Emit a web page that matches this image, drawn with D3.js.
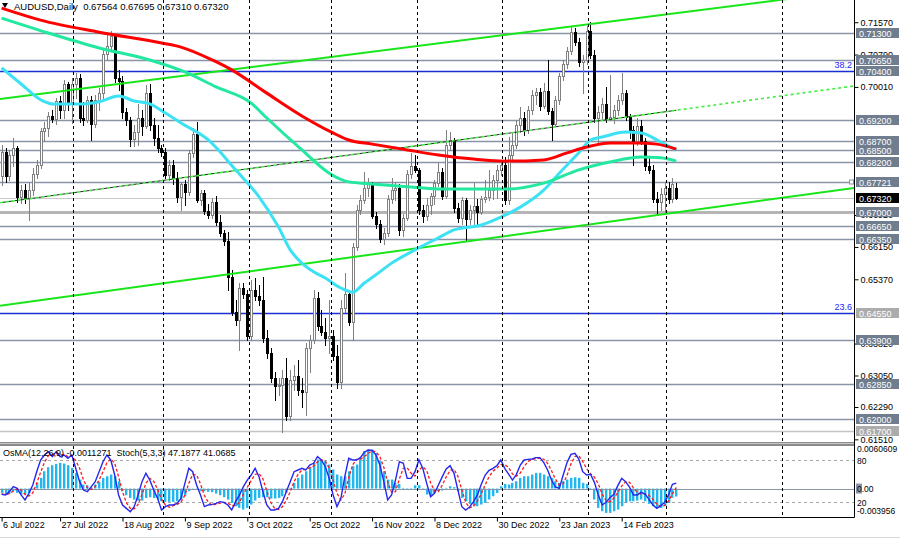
<!DOCTYPE html>
<html>
<head>
<meta charset="utf-8">
<script src="https://cdn.jsdelivr.net/npm/d3@7"></script>
<style>
  html, body { margin: 0; padding: 0; background: #fff; overflow: hidden; }
  svg { display: block; font-family: "Liberation Sans", Arial, sans-serif; }
</style>
</head>
<body>
<svg id="chart" width="900" height="538"></svg>
<script>
// AUDUSD daily bars, 6 Jul 2022 .. 6 Mar 2023
const opens = [0.6786,0.6844,0.6786,0.6837,0.6854,0.6736,0.6753,0.6733,0.6753,0.6791,
  0.6813,0.6895,0.6902,0.6931,0.6924,0.6967,0.6946,0.7008,0.6965,0.7008,
  0.7023,0.6926,0.6922,0.6970,0.6912,0.6970,0.6987,0.7081,0.7100,0.7124,
  0.7023,0.7016,0.6941,0.6922,0.6876,0.6893,0.6926,0.6907,0.6987,0.6909,
  0.6878,0.6854,0.6844,0.6789,0.6813,0.6782,0.6736,0.6767,0.6748,0.6842,
  0.6888,0.6729,0.6745,0.6702,0.6692,0.6724,0.6676,0.6649,0.6630,0.6543,
  0.6458,0.6439,0.6516,0.6502,0.6401,0.6512,0.6497,0.6487,0.6396,0.6360,
  0.6299,0.6280,0.6282,0.6299,0.6208,0.6294,0.6304,0.6270,0.6265,0.6372,
  0.6391,0.6492,0.6425,0.6410,0.6396,0.6401,0.6352,0.6290,0.6468,0.6502,
  0.6434,0.6615,0.6704,0.6729,0.6758,0.6767,0.6690,0.6671,0.6635,0.6649,
  0.6731,0.6753,0.6758,0.6656,0.6685,0.6791,0.6811,0.6801,0.6704,0.6690,
  0.6717,0.6738,0.6770,0.6796,0.6738,0.6861,0.6873,0.6709,0.6685,0.6729,
  0.6683,0.6704,0.6714,0.6700,0.6731,0.6736,0.6753,0.6777,0.6801,0.6813,
  0.6729,0.6837,0.6861,0.6909,0.6926,0.6897,0.6946,0.6982,0.6989,0.6955,
  0.6992,0.6943,0.6912,0.6970,0.7028,0.7057,0.7088,0.7134,0.7110,0.7061,
  0.7066,0.7136,0.7078,0.6926,0.6941,0.6960,0.6924,0.6929,0.6946,0.6970,
  0.6987,0.6929,0.6897,0.6871,0.6907,0.6871,0.6811,0.6801,0.6731,0.6724,
  0.6743,0.6758,0.6731,0.67564];
const highs = [0.6861,0.6854,0.6849,0.6878,0.6859,0.6765,0.6767,0.6770,0.6806,0.6825,
  0.6902,0.6917,0.6941,0.6946,0.6975,0.6979,0.7018,0.7013,0.7023,0.7035,
  0.7033,0.6965,0.6979,0.6979,0.6982,0.6999,0.7090,0.7131,0.7136,0.7129,
  0.7042,0.7028,0.6951,0.6929,0.6909,0.6960,0.6946,0.7006,0.7008,0.6926,
  0.6909,0.6861,0.6854,0.6825,0.6825,0.6796,0.6772,0.6777,0.6849,0.6902,
  0.6917,0.6753,0.6753,0.6719,0.6733,0.6738,0.6692,0.6656,0.6651,0.6560,
  0.6487,0.6528,0.6528,0.6512,0.6536,0.6540,0.6524,0.6543,0.6415,0.6372,
  0.6314,0.6299,0.6319,0.6347,0.6319,0.6331,0.6343,0.6299,0.6384,0.6403,
  0.6512,0.6507,0.6463,0.6444,0.6487,0.6415,0.6379,0.6487,0.6553,0.6512,
  0.6625,0.6717,0.6741,0.6796,0.6782,0.6772,0.6700,0.6680,0.6661,0.6741,
  0.6782,0.6772,0.6767,0.6695,0.6801,0.6842,0.6837,0.6806,0.6717,0.6733,
  0.6745,0.6777,0.6818,0.6806,0.6897,0.6893,0.6878,0.6721,0.6736,0.6733,
  0.6717,0.6770,0.6731,0.6738,0.6777,0.6801,0.6789,0.6813,0.6825,0.6832,
  0.6881,0.6890,0.6922,0.6953,0.6941,0.6955,0.6994,0.6999,0.6999,0.7011,
  0.7066,0.6951,0.6979,0.7035,0.7066,0.7098,0.7146,0.7143,0.7119,0.7078,
  0.7148,0.7158,0.7090,0.6955,0.6975,0.7001,0.7030,0.6958,0.6982,0.7035,
  0.6994,0.6936,0.6907,0.6926,0.6922,0.6878,0.6830,0.6813,0.6748,0.6758,
  0.6772,0.6772,0.6782,0.67695];
const lows = [0.6765,0.6772,0.6777,0.6811,0.6724,0.6721,0.6721,0.6680,0.6741,0.6782,
  0.6806,0.6871,0.6883,0.6917,0.6912,0.6926,0.6926,0.6946,0.6914,0.6975,
  0.6917,0.6909,0.6917,0.6873,0.6905,0.6946,0.6970,0.7066,0.7090,0.7013,
  0.6994,0.6926,0.6909,0.6859,0.6859,0.6861,0.6885,0.6902,0.6897,0.6861,
  0.6844,0.6835,0.6782,0.6777,0.6767,0.6724,0.6704,0.6717,0.6741,0.6832,
  0.6724,0.6717,0.6695,0.6685,0.6685,0.6668,0.6642,0.6620,0.6512,0.6451,
  0.6427,0.6367,0.6492,0.6391,0.6391,0.6487,0.6475,0.6386,0.6347,0.6290,
  0.6246,0.6258,0.6169,0.6198,0.6198,0.6270,0.6258,0.6229,0.6210,0.6314,
  0.6384,0.6415,0.6403,0.6379,0.6360,0.6343,0.6275,0.6275,0.6458,0.6427,
  0.6391,0.6608,0.6695,0.6721,0.6738,0.6685,0.6661,0.6627,0.6622,0.6642,
  0.6721,0.6729,0.6644,0.6642,0.6680,0.6782,0.6796,0.6695,0.6676,0.6680,
  0.6695,0.6719,0.6762,0.6731,0.6733,0.6849,0.6700,0.6676,0.6671,0.6632,
  0.6671,0.6666,0.6671,0.6695,0.6724,0.6729,0.6731,0.6733,0.6789,0.6719,
  0.6719,0.6825,0.6854,0.6893,0.6885,0.6890,0.6936,0.6960,0.6946,0.6951,
  0.6936,0.6873,0.6907,0.6960,0.7018,0.7047,0.7081,0.7102,0.7052,0.6987,
  0.7057,0.7071,0.6917,0.6866,0.6922,0.6917,0.6922,0.6914,0.6934,0.6960,
  0.6922,0.6878,0.6813,0.6861,0.6864,0.6801,0.6794,0.6724,0.6697,0.6704,
  0.6697,0.6721,0.6724,0.6731];
const closes = [0.6844,0.6786,0.6837,0.6854,0.6736,0.6753,0.6733,0.6753,0.6791,0.6813,
  0.6895,0.6902,0.6931,0.6924,0.6967,0.6946,0.7008,0.6965,0.7008,0.7023,
  0.6926,0.6922,0.6970,0.6912,0.6970,0.6987,0.7081,0.7100,0.7124,0.7023,
  0.7016,0.6941,0.6922,0.6876,0.6893,0.6926,0.6907,0.6987,0.6909,0.6878,
  0.6854,0.6844,0.6789,0.6813,0.6782,0.6736,0.6767,0.6748,0.6842,0.6888,
  0.6729,0.6745,0.6702,0.6692,0.6724,0.6676,0.6649,0.6630,0.6543,0.6458,
  0.6439,0.6516,0.6502,0.6401,0.6512,0.6497,0.6487,0.6396,0.6360,0.6299,
  0.6280,0.6282,0.6299,0.6208,0.6294,0.6304,0.6270,0.6265,0.6372,0.6391,
  0.6492,0.6425,0.6410,0.6396,0.6401,0.6352,0.6290,0.6468,0.6502,0.6434,
  0.6615,0.6704,0.6729,0.6758,0.6767,0.6690,0.6671,0.6635,0.6649,0.6731,
  0.6753,0.6758,0.6656,0.6685,0.6791,0.6811,0.6801,0.6704,0.6690,0.6717,
  0.6738,0.6770,0.6796,0.6738,0.6861,0.6873,0.6709,0.6685,0.6729,0.6683,
  0.6704,0.6714,0.6700,0.6731,0.6736,0.6753,0.6777,0.6801,0.6813,0.6729,
  0.6837,0.6861,0.6909,0.6926,0.6897,0.6946,0.6982,0.6989,0.6955,0.6992,
  0.6943,0.6912,0.6970,0.7028,0.7057,0.7088,0.7134,0.7110,0.7061,0.7066,
  0.7136,0.7078,0.6926,0.6941,0.6960,0.6924,0.6929,0.6946,0.6970,0.6987,
  0.6929,0.6897,0.6871,0.6907,0.6871,0.6811,0.6801,0.6731,0.6724,0.6743,
  0.6758,0.6731,0.6767,0.6732];

// moving averages, sampled [bar, price]
const ema200 = [[0,0.7191],[10,0.7162],[25,0.7133],[41,0.7107],[46,0.7097],[54,0.7066],[59,0.7042],
  [68,0.6986],[77,0.6931],[85,0.6890],[89,0.6873],[95,0.6863],[104,0.6849],[112,0.6837],[121,0.6827],
  [129,0.6822],[139,0.6825],[145,0.6842],[150,0.6856],[156,0.6866],[163,0.6866],[168,0.6863],[173,0.6851]];
const ema144 = [[0,0.7167],[12,0.7131],[25,0.7095],[38,0.7066],[47,0.7037],[55,0.7001],[64,0.6962],
  [68,0.6926],[77,0.6849],[84,0.6793],[89,0.6772],[95,0.6767],[104,0.6760],[112,0.6755],[121,0.6755],
  [130,0.6755],[139,0.6769],[148,0.6801],[156,0.6820],[164,0.6832],[169,0.6830],[173,0.6822]];
const ema50 = [[0,0.7047],[5,0.7008],[10,0.6970],[13,0.6960],[21,0.6960],[25,0.6965],[30,0.6979],[34,0.6967],
  [38,0.6960],[42,0.6938],[46,0.6914],[53,0.6873],[60,0.6801],[66,0.6736],[71,0.6663],[74,0.6608],
  [77,0.6576],[80,0.6555],[83,0.6540],[87,0.6516],[90,0.6506],[93,0.6528],[97,0.6555],[100,0.6576],
  [106,0.6608],[112,0.6637],[116,0.6656],[123,0.6668],[128,0.6687],[133,0.6711],[139,0.6752],[143,0.6793],
  [148,0.6842],[151,0.6873],[154,0.6880],[160,0.6892],[164,0.6890],[169,0.6868],[173,0.6849]];

// OsMA(12,26,9) histogram and Stoch(5,3,3)
const osma = [-0.00062,-0.00085,-0.00076,-0.00038,-0.00062,-0.00085,-0.00085,-0.00062,-0.00014,0.00081,
  0.00152,0.00246,0.00303,0.00332,0.00351,0.00365,0.00355,0.00332,0.00294,0.00223,
  0.00128,0.00057,0.00047,0.00019,0.00057,0.00095,0.00152,0.00175,0.00199,0.00175,
  0.00104,-0.00038,-0.00095,-0.00133,-0.00156,-0.00171,-0.00171,-0.00133,-0.00123,-0.00133,
  -0.00156,-0.00180,-0.00189,-0.00189,-0.00189,-0.00180,-0.00156,-0.00109,-0.00038,-0.00005,
  -0.00014,-0.00038,-0.00038,-0.00047,-0.00052,-0.00071,-0.00095,-0.00123,-0.00156,-0.00204,
  -0.00251,-0.00275,-0.00298,-0.00275,-0.00227,-0.00171,-0.00133,-0.00123,-0.00123,-0.00142,
  -0.00142,-0.00133,-0.00109,-0.00062,0.00009,0.00081,0.00152,0.00199,0.00246,0.00303,
  0.00365,0.00412,0.00412,0.00388,0.00341,0.00270,0.00199,0.00175,0.00175,0.00246,
  0.00317,0.00341,0.00436,0.00530,0.00554,0.00554,0.00507,0.00388,0.00246,0.00128,
  0.00128,0.00081,0.00066,0.00009,-0.00019,-0.00009,0.00047,0.00047,-0.00014,-0.00085,
  -0.00109,-0.00062,-0.00038,-0.00028,0.00009,0.00033,0.00019,-0.00038,-0.00133,-0.00180,
  -0.00218,-0.00251,-0.00251,-0.00227,-0.00204,-0.00156,-0.00109,-0.00062,0.00033,0.00066,
  0.00057,0.00081,0.00104,0.00152,0.00175,0.00175,0.00199,0.00223,0.00223,0.00199,
  0.00175,0.00152,0.00104,0.00081,0.00104,0.00128,0.00152,0.00161,0.00152,0.00081,
  0.00066,0.00009,-0.00156,-0.00275,-0.00322,-0.00346,-0.00346,-0.00322,-0.00298,-0.00251,
  -0.00204,-0.00180,-0.00180,-0.00171,-0.00156,-0.00180,-0.00218,-0.00251,-0.00275,-0.00275,
  -0.00251,-0.00204,-0.00133,-0.0011271];
const stochMain = [31.3,30.4,35.1,42.2,39.8,30.4,23.3,32.7,44.5,63.4,
  80.0,87.1,91.8,84.7,91.8,84.7,87.1,82.4,87.1,68.2,
  49.3,37.4,35.1,42.2,49.3,63.4,77.6,87.1,80.0,58.7,
  30.4,16.2,11.4,6.7,13.8,30.4,49.3,61.1,51.6,37.4,
  25.6,9.1,13.8,16.2,16.2,18.5,25.6,46.9,68.2,63.4,
  44.5,30.4,13.8,16.2,17.1,18.5,20.9,20.0,16.2,9.1,
  20.9,30.4,42.2,51.6,58.7,68.2,56.4,35.1,16.2,9.1,
  9.1,11.4,20.9,35.1,49.3,63.4,65.8,68.2,65.8,72.9,
  75.3,84.7,80.0,70.5,54.0,30.4,13.8,25.6,56.4,82.4,
  80.0,80.0,83.3,90.9,94.2,93.7,87.1,72.9,49.3,23.3,
  30.4,51.6,77.6,75.3,54.0,54.0,63.4,80.0,68.2,46.9,
  28.0,32.7,44.5,56.4,67.2,72.0,61.1,37.4,13.8,9.1,
  13.3,20.9,30.4,45.5,58.7,65.3,68.2,72.0,80.0,68.2,
  60.1,51.6,59.7,72.9,80.0,80.9,81.4,83.3,83.3,76.7,
  65.8,51.6,41.7,39.8,58.7,76.7,88.0,89.5,81.4,63.4,
  58.7,59.7,48.3,30.4,16.2,20.0,26.6,31.3,43.6,54.0,
  49.3,41.7,30.4,30.4,34.1,31.8,24.2,16.2,11.4,15.0,
  20.0,30.5,45.5,47.1877];
const stochSignal = [32.0,31.0,32.3,35.9,39.0,37.5,31.2,28.8,33.5,46.9,
  62.6,76.8,86.3,87.9,89.4,87.1,87.9,84.7,85.5,79.2,
  68.2,51.6,40.6,38.2,42.2,51.6,63.4,76.0,81.6,75.3,
  56.4,35.1,19.3,11.4,10.6,17.0,31.2,46.9,54.0,50.0,
  38.2,24.0,16.2,13.0,15.4,17.0,20.1,30.3,46.9,59.5,
  58.7,46.1,29.6,20.1,15.7,17.3,18.8,19.8,19.0,15.1,
  15.4,20.1,31.2,41.4,50.8,59.5,61.1,53.2,35.9,20.1,
  11.5,9.9,13.8,22.5,35.1,49.3,59.5,65.8,66.6,69.0,
  71.3,77.6,80.0,78.4,68.2,51.6,32.7,23.3,31.9,54.8,
  72.9,80.8,81.1,84.7,89.5,92.9,91.7,84.6,69.8,48.5,
  34.3,35.1,53.2,68.2,69.0,61.1,57.1,65.8,70.5,65.0,
  47.7,35.9,35.1,44.5,56.0,65.2,66.8,56.8,37.4,20.1,
  12.1,14.4,21.5,32.3,44.9,56.5,64.1,68.5,73.4,73.4,
  69.4,60.0,57.1,61.4,70.9,77.9,80.8,81.9,82.7,81.1,
  75.3,64.7,53.0,44.4,46.7,58.4,74.5,84.7,86.3,78.1,
  67.8,60.6,55.6,46.1,31.6,22.2,20.9,26.0,33.8,43.0,
  49.0,48.3,40.5,34.2,31.6,32.1,30.0,24.1,17.3,14.2,
  15.5,21.8,32.0,41.0685];

// axes
const dateLabels = ["6 Jul 2022","27 Jul 2022","18 Aug 2022","9 Sep 2022","3 Oct 2022","25 Oct 2022",
  "16 Nov 2022","8 Dec 2022","30 Dec 2022","23 Jan 2023","14 Feb 2023"];
const dateBars = [0,15,31,47,63,79,95,111,127,143,159];
const monthStartBars = [18,41,63,84,106,128,150,170,199.6];
// scale labels that are not fully hidden behind the level boxes
const priceTicks = [0.7157,0.7079,0.7001,0.6692,0.6615,0.6537,0.6382,0.6305,0.6229,0.6151];

// chart objects
const levelPrices = [0.7130,0.7065,0.7040,0.6920,0.6870,0.6850,0.6820,0.67721,0.6700,0.6665,0.6635,0.6455,0.6390,0.6285,0.6200,0.6170];
const fiboLevels = [0.7040, 0.6455];
const fiboNames = ["38.2", "23.6"];
const trendUpper = [[0,0.69723],[150,0.71515]];
const trendMid = [[0,0.67222],[150,0.69151]];
const trendLower = [[0,0.64737],[150,0.66684]];
const lastPrice = 0.6732;

const svg = d3.select("#chart");
const plotRight = 854, mainBottom = 443, oscTop = 446, oscBottom = 517;

const x = d3.scaleLinear().domain([0, 173]).range([1.6, 1.6 + 173 * 3.9]);
const y = d3.scaleLinear().domain([0.61422, 0.72106]).range([mainBottom, 0]);
const yStoch = d3.scaleLinear().domain([0, 100]).range([516.4, 445.9]);
const yOsma = d3.scaleLinear().domain([-0.003956, 0.0060609]).range([516.4, 445.9]);

const defs = svg.append("defs");
defs.append("clipPath").attr("id", "clipMain").append("rect")
  .attr("x", 0).attr("y", 0).attr("width", plotRight).attr("height", 442);
defs.append("clipPath").attr("id", "clipOsc").append("rect")
  .attr("x", 0).attr("y", oscTop).attr("width", plotRight).attr("height", oscBottom - oscTop);

const gMain = svg.append("g").attr("clip-path", "url(#clipMain)");
const gOsc = svg.append("g").attr("clip-path", "url(#clipOsc)");

// month separators (both panels)
monthStartBars.forEach(b => {
  const xx = Math.round(x(b) + 1.5) + 0.5;
  [[0, 442], [oscTop, oscBottom]].forEach(([a, z]) => {
    svg.append("line").attr("x1", xx).attr("x2", xx).attr("y1", a).attr("y2", z)
      .attr("stroke", "#000").attr("stroke-width", 1).attr("stroke-dasharray", "3,3");
  });
});

// horizontal levels
const hy = p => Math.round(y(p)) + 0.5;
levelPrices.forEach(p => {
  let col = "#8995a6", w = 1.5;
  if (fiboLevels.includes(p)) { col = "#1b2fd6"; w = 1.5; }
  if (p === 0.6700) { col = "#b5b5b5"; w = 3; }
  if (p === 0.6170) { col = "#c4c4c4"; w = 1.5; }
  gMain.append("line").attr("x1", 0).attr("x2", plotRight).attr("y1", hy(p)).attr("y2", hy(p))
    .attr("stroke", col).attr("stroke-width", w);
});
gMain.append("line").attr("x1", 0).attr("x2", plotRight).attr("y1", hy(lastPrice)).attr("y2", hy(lastPrice))
  .attr("stroke", "#c8c8c8").attr("stroke-width", 1);
fiboNames.forEach((n, k) => {
  gMain.append("text").attr("x", 852).attr("y", y(fiboLevels[k]) - 3).attr("text-anchor", "end")
    .attr("font-size", 9).attr("fill", "#2323ff").text(n);
});

// candles
const bars = d3.range(opens.length).map(i => ({ i, o: opens[i], h: highs[i], l: lows[i], c: closes[i] }));
const cg = gMain.append("g").selectAll("g").data(bars).join("g");
cg.append("line")
  .attr("x1", d => Math.round(x(d.i)) + 0.5).attr("x2", d => Math.round(x(d.i)) + 0.5)
  .attr("y1", d => Math.round(y(d.h))).attr("y2", d => Math.round(y(d.l)) + 1)
  .attr("stroke", d => d.c >= d.o ? "#808080" : "#000").attr("stroke-width", 1);
cg.filter(d => d.c >= d.o).append("rect")
  .attr("x", d => Math.round(x(d.i)) - 0.5)
  .attr("y", d => Math.round(y(d.c)) + 0.5)
  .attr("width", 2)
  .attr("height", d => Math.max(1, Math.round(y(d.o)) - Math.round(y(d.c))))
  .attr("fill", "#fff").attr("stroke", "#808080").attr("stroke-width", 1);
cg.filter(d => d.c < d.o).append("rect")
  .attr("x", d => Math.round(x(d.i)) - 1)
  .attr("y", d => Math.round(y(d.o)))
  .attr("width", 3)
  .attr("height", d => Math.max(1, Math.round(y(d.c)) - Math.round(y(d.o)) + 1))
  .attr("fill", "#000");

// trend lines, extended across the chart
const x0i = x.invert(0), x1i = x.invert(plotRight);
function rayPoints(t, from, to) {
  const k = (t[1][1] - t[0][1]) / (t[1][0] - t[0][0]);
  return [[from, t[0][1] + k * (from - t[0][0])], [to, t[0][1] + k * (to - t[0][0])]];
}
const tline = d3.line().x(d => x(d[0])).y(d => y(d[1]));
gMain.append("path").attr("d", tline(rayPoints(trendUpper, x0i, x1i)))
  .attr("stroke", "#19e619").attr("stroke-width", 2).attr("fill", "none");
gMain.append("path").attr("d", tline(rayPoints(trendLower, x0i, x1i)))
  .attr("stroke", "#19e619").attr("stroke-width", 2).attr("fill", "none");
gMain.append("path").attr("d", tline(rayPoints(trendMid, x0i, x1i)))
  .attr("stroke", "#3df03d").attr("stroke-width", 1.6).attr("fill", "none").attr("stroke-dasharray", "3,3");
gMain.append("path").attr("d", tline(rayPoints(trendMid, x0i, 173)))
  .attr("stroke", "#222").attr("stroke-width", 1).attr("fill", "none")
  .attr("stroke-dasharray", "3,3").attr("stroke-dashoffset", 3);

// moving averages
const maLine = d3.line().x(d => x(d[0])).y(d => y(d[1])).curve(d3.curveMonotoneX);
[[ema50, "#3ce2f4"], [ema144, "#22e8a0"], [ema200, "#ff0000"]].forEach(([s, c]) => {
  gMain.append("path").attr("d", maLine(s)).attr("fill", "none")
    .attr("stroke", c).attr("stroke-width", 3).attr("stroke-linejoin", "round");
});

// small anchor square on the 0.67721 line
gMain.append("rect").attr("x", 849.5).attr("y", hy(0.67721) - 2.5).attr("width", 4).attr("height", 4)
  .attr("fill", "#fff").attr("stroke", "#8995a6");

// header
svg.append("path").attr("d", "M2,3 L8,3 L5,8 Z").attr("fill", "#000");
svg.append("text").attr("x", 14).attr("y", 10).attr("font-size", 9.5).attr("fill", "#000")
  .attr("xml:space", "preserve")
  .text("AUDUSD,Daily  0.67564 0.67695 0.67310 0.67320");

// panel separator
svg.append("rect").attr("x", 0).attr("y", 442).attr("width", plotRight).attr("height", 4).attr("fill", "#8c8c8c");
svg.append("line").attr("x1", 0).attr("x2", plotRight).attr("y1", 443.5).attr("y2", 443.5).attr("stroke", "#c8c8c8");

// oscillator panel
[80, 20].forEach(v => {
  gOsc.append("line").attr("x1", 0).attr("x2", plotRight).attr("y1", Math.round(yStoch(v)) + 0.5)
    .attr("y2", Math.round(yStoch(v)) + 0.5).attr("stroke", "#a8a8a8").attr("stroke-dasharray", "3,3");
});
gOsc.append("g").selectAll("rect").data(osma).join("rect")
  .attr("x", (d, i) => Math.round(x(i)) - 1)
  .attr("width", 2.4)
  .attr("y", d => Math.min(yOsma(d), yOsma(0)))
  .attr("height", d => Math.abs(yOsma(d) - yOsma(0)))
  .attr("fill", "#22b6ef");
gOsc.append("line").attr("x1", 0).attr("x2", plotRight).attr("y1", Math.round(yOsma(0)) + 0.5)
  .attr("y2", Math.round(yOsma(0)) + 0.5).attr("stroke", "#8995a6").attr("stroke-width", 1.2);
const stLine = d3.line().x((d, i) => x(i)).y(d => yStoch(d));
gOsc.append("path").attr("d", stLine(stochSignal)).attr("fill", "none")
  .attr("stroke", "#ff1a1a").attr("stroke-width", 1.3).attr("stroke-dasharray", "3,2");
gOsc.append("path").attr("d", stLine(stochMain)).attr("fill", "none")
  .attr("stroke", "#2626f0").attr("stroke-width", 1.4);
svg.append("text").attr("x", 3).attr("y", 456).attr("font-size", 9).attr("fill", "#000")
  .attr("xml:space", "preserve")
  .text("OsMA(12,26,9) -0.0011271  Stoch(5,3,3) 47.1877 41.0685");

// frame lines
svg.append("line").attr("x1", plotRight + 0.5).attr("x2", plotRight + 0.5).attr("y1", 0).attr("y2", oscBottom + 0.5)
  .attr("stroke", "#000");
svg.append("line").attr("x1", 0).attr("x2", plotRight + 0.5).attr("y1", oscBottom + 0.5).attr("y2", oscBottom + 0.5)
  .attr("stroke", "#000");
svg.append("line").attr("x1", 0).attr("x2", 900).attr("y1", 537.5).attr("y2", 537.5).attr("stroke", "#d8d8d8");

// price axis
const pAxis = d3.axisRight(y).tickValues(priceTicks).tickFormat(d3.format(".5f")).tickSize(4).tickPadding(2);
const pa = svg.append("g").attr("transform", `translate(${plotRight + 0.5},0)`).call(pAxis);
pa.select(".domain").remove();
pa.selectAll("text").attr("font-size", 9).attr("fill", "#000").attr("font-family", "Liberation Sans, Arial, sans-serif");
pa.selectAll("line").attr("stroke", "#000");

// level boxes on the axis
const boxes = levelPrices.map(p => ({ p, fill: (p === 0.6455 || p === 0.6170) ? "#acacac" : "#6f7d8e" }));
boxes.push({ p: lastPrice, fill: "#000" });
const bg = svg.append("g").selectAll("g").data(boxes).join("g")
  .attr("transform", d => `translate(856,${Math.round(y(d.p))})`);
bg.append("rect").attr("x", 0).attr("y", -5).attr("width", 43).attr("height", 10).attr("fill", d => d.fill);
bg.append("text").attr("x", 3).attr("y", 3.5).attr("font-size", 9).attr("fill", "#fff")
  .text(d => d3.format(".5f")(d.p));

// oscillator axis labels
svg.append("rect").attr("x", 856).attr("y", yOsma(0) - 5).attr("width", 6).attr("height", 10).attr("fill", "#8995a6");
[["0.0060609", 452], ["80", yStoch(80) + 3.5], ["0.00", yOsma(0) + 3.5], ["20", yStoch(20) + 3.5], ["-0.003956", 514]]
  .forEach(([t, yy]) => {
    svg.append("text").attr("x", 857).attr("y", yy).attr("font-size", 8.5).attr("fill", "#000").text(t);
  });

// time axis
const tAxis = d3.axisBottom(x).tickValues(dateBars).tickFormat((d, k) => dateLabels[k]).tickSize(4).tickPadding(2);
const ta = svg.append("g").attr("transform", `translate(0,${oscBottom + 0.5})`).call(tAxis);
ta.select(".domain").remove();
ta.selectAll("line").attr("stroke", "#000");
ta.selectAll("text").attr("text-anchor", "start").attr("dx", 1).attr("dy", "0.55em")
  .attr("font-size", 9).attr("fill", "#000").attr("font-family", "Liberation Sans, Arial, sans-serif");
</script>
</body>
</html>
